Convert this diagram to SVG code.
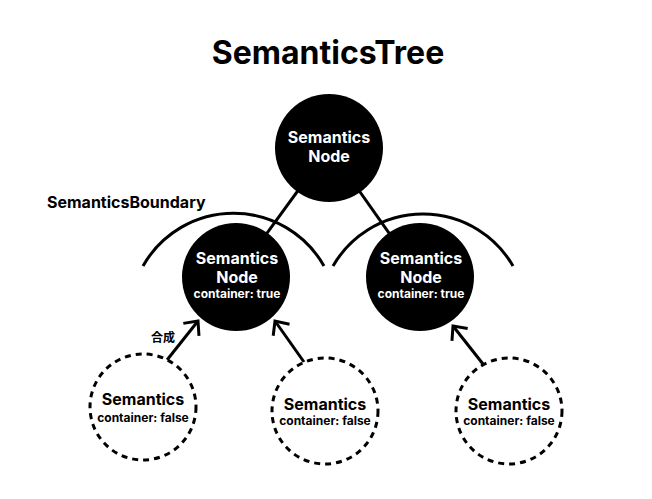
<svg xmlns="http://www.w3.org/2000/svg" width="652" height="499" viewBox="0 0 652 499">
<defs>
<style>
text{font-family:Inter,"Noto Sans CJK JP","Liberation Sans",sans-serif;font-weight:700;text-anchor:middle}
.title{font-size:32px;fill:#000}
.lbl{font-size:16px;fill:#000;text-anchor:start}
.jp{font-size:12px;fill:#000}
.solid{fill:#000}
.wt{fill:#fff;font-size:16px}
.ws{fill:#fff;font-size:12px}
.bt{fill:#000;font-size:16px}
.bs{fill:#000;font-size:12px}
.dash{fill:#fff;stroke:#000;stroke-width:3;stroke-dasharray:6 5}
.edge{fill:none;stroke:#000;stroke-width:3}
</style>
<marker id="arr" viewBox="-14 -12 18 24" markerWidth="18" markerHeight="24" refX="0" refY="0" orient="auto" markerUnits="userSpaceOnUse" overflow="visible">
<path d="M-11,-10 L0,0 L-11,10" fill="none" stroke="#000" stroke-width="3"/>
</marker>
</defs>
<rect width="652" height="499" fill="#fff"/>
<text class="title" x="328" y="64">SemanticsTree</text>
<text class="lbl" x="47" y="208">SemanticsBoundary</text>

<g id="connectors">
<line class="edge" x1="329" y1="148" x2="235" y2="277"/>
<line class="edge" x1="329" y1="148" x2="420" y2="277"/>
<path class="edge" d="M143,266 A104,104 0 0 1 324,266"/>
<path class="edge" d="M333,266 A104,104 0 0 1 513,266"/>
<line class="edge" x1="167" y1="360" x2="198" y2="321" marker-end="url(#arr)"/>
<line class="edge" x1="304" y1="362" x2="275" y2="321" marker-end="url(#arr)"/>
<line class="edge" x1="483" y1="364" x2="453" y2="326" marker-end="url(#arr)"/>
<text class="jp" x="163" y="342">合成</text>
</g>

<g id="root">
<circle class="solid" cx="329" cy="148" r="54"/>
<text class="wt" x="329" y="143">Semantics</text>
<text class="wt" x="329" y="162">Node</text>
</g>
<g id="node-left">
<circle class="solid" cx="236" cy="277" r="54"/>
<text class="wt" x="237" y="264">Semantics</text>
<text class="wt" x="237" y="283">Node</text>
<text class="ws" x="237" y="298">container: true</text>
</g>
<g id="node-right">
<circle class="solid" cx="420" cy="277" r="54"/>
<text class="wt" x="421" y="264">Semantics</text>
<text class="wt" x="421" y="283">Node</text>
<text class="ws" x="421" y="298">container: true</text>
</g>
<g id="leaf-1">
<circle class="dash" cx="143" cy="407" r="53"/>
<text class="bt" x="143" y="405">Semantics</text>
<text class="bs" x="143" y="422">container: false</text>
</g>
<g id="leaf-2">
<circle class="dash" cx="325" cy="411" r="53"/>
<text class="bt" x="325" y="410">Semantics</text>
<text class="bs" x="325" y="425">container: false</text>
</g>
<g id="leaf-3">
<circle class="dash" cx="509" cy="411" r="53"/>
<text class="bt" x="509" y="410">Semantics</text>
<text class="bs" x="509" y="425">container: false</text>
</g>
</svg>
